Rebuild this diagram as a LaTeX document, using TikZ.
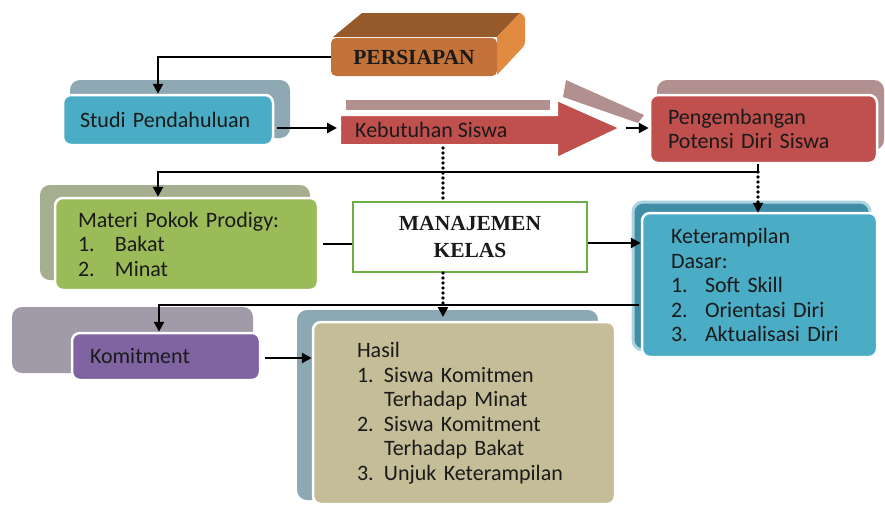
\documentclass[tikz,border=0pt]{standalone}
\usepackage{fontspec}
\setmainfont{Carlito}
\newfontfamily\serifb{Liberation Serif}
\usetikzlibrary{arrows.meta}
\definecolor{cblue}{HTML}{4BACC6}
\definecolor{cblueshad}{HTML}{8EA9B3}
\definecolor{cketshad}{HTML}{408EA6}
\definecolor{cketglow}{HTML}{A9D3E0}
\definecolor{cred}{HTML}{C0504D}
\definecolor{credshad}{HTML}{B39090}
\definecolor{cgreen}{HTML}{9BBB59}
\definecolor{cgreenshad}{HTML}{A5AE8E}
\definecolor{cpurple}{HTML}{8064A2}
\definecolor{cpurpshad}{HTML}{A19AA8}
\definecolor{ctan}{HTML}{C4BD97}
\definecolor{chasshad}{HTML}{8BA8B4}
\definecolor{corfront}{HTML}{C3733A}
\definecolor{cortop}{HTML}{95592A}
\definecolor{corside}{HTML}{E08B3F}
\definecolor{cmkline}{HTML}{6DAE45}
\definecolor{ctext}{HTML}{1A1A1A}
\begin{document}
\begin{tikzpicture}[x=1pt,y=-1pt,
  box/.style={rounded corners=8pt, draw=white, line width=2.5pt, inner ysep=0pt,
    align=left, text=ctext, font=\fontsize{22}{24.5}\selectfont},
  shad/.style={rounded corners=10pt},
  arr/.style={line width=2.8pt, -{Triangle[length=10pt,width=10pt]}},
  ln/.style={line width=2.8pt},
  dots/.style={line width=3.6pt, line cap=round, dash pattern=on 0pt off 5pt},
]
\useasboundingbox (0,0) rectangle (885,504);

% ---------- PERSIAPAN (3D block)
\fill[cortop] (333,37) -- (362,13) -- (520,13) -- (497,37) -- cycle;
\fill[corside] (497,37) -- (520,13) [rounded corners=3pt] -- (525,16) -- (525,45) [sharp corners] -- (497,75) -- cycle;
\node[fill=corfront, rounded corners=5pt, minimum width=166pt, minimum height=38pt,
  inner sep=0pt, font=\serifb\bfseries\fontsize{21.5}{22}\selectfont, text=ctext] (pers) at (414,57) {PERSIAPAN};

% ---------- shadows
\fill[cblueshad, shad] (70,80) rectangle (290,138);
\fill[credshad, shad] (657,80) rectangle (884,150);
\fill[cgreenshad, shad] (40,185) rectangle (310,280);
\filldraw[fill=cketshad, draw=cketglow, line width=3pt, shad] (633,202) rectangle (870,350);
\fill[cpurpshad, shad] (12,307) rectangle (253,373);
\fill[chasshad, shad] (297,310) rectangle (598,500);

% ---------- Kebutuhan Siswa block arrow and its shadow bits
\fill[credshad] (346,100) rectangle (550,110);
\fill[credshad] (566,80) -- (644,115) -- (638,123) -- (563,97) -- cycle;
\filldraw[fill=cred, draw=white, line width=2pt]
  (340,115) -- (557,115) -- (557,100) -- (620,128) -- (557,158) -- (557,145) -- (340,145) -- cycle;
\node[anchor=west, inner sep=0pt, text=ctext, font=\fontsize{22}{24.5}\selectfont] (keb) at (355,130) {Kebutuhan Siswa};
\coordinate (kebL) at (337,128);
\coordinate (kebTip) at (626,128);

% ---------- boxes
\node[box, fill=cblue, minimum width=210pt, minimum height=50pt, inner xsep=17pt, text width=176pt]
  (studi) at (168,120) {Studi Pendahuluan};
\node[box, fill=cred, minimum width=227pt, minimum height=68pt, inner xsep=18pt, text width=191pt]
  (peng) at (763.5,129) {Pengembangan\\Potensi Diri Siswa};
\node[box, fill=cgreen, minimum width=263pt, minimum height=92pt, inner xsep=23pt, text width=217pt]
  (materi) at (186.5,244) {Materi Pokok Prodigy:\\\makebox[37pt][l]{1.}Bakat\\\makebox[37pt][l]{2.}Minat};
\node[draw=cmkline, fill=white, line width=2pt, minimum width=234pt, minimum height=70pt, align=center,
  inner sep=0pt, text=ctext, font=\serifb\bfseries\fontsize{21.5}{27}\selectfont]
  (mk) at (470,237) {MANAJEMEN\\KELAS};
\node[box, fill=cblue, minimum width=235pt, minimum height=144pt, inner xsep=29pt, text width=177pt]
  (ket) at (759.5,285) {Keterampilan\\Dasar:\\\makebox[34pt][l]{1.}Soft Skill\\\makebox[34pt][l]{2.}Orientasi Diri\\\makebox[34pt][l]{3.}Aktualisasi Diri};
\node[box, fill=cpurple, minimum width=188pt, minimum height=47pt, inner xsep=18pt, text width=152pt]
  (komit) at (166,356.5) {Komitment};
\node[box, fill=ctan, minimum width=302pt, minimum height=182pt, inner xsep=44pt, text width=214pt]
  (hasil) at (464,413) {Hasil\\\makebox[27pt][l]{1.}Siswa Komitmen\\\hspace*{27pt}Terhadap Minat\\\makebox[27pt][l]{2.}Siswa Komitment\\\hspace*{27pt}Terhadap Bakat\\\makebox[27pt][l]{3.}Unjuk Keterampilan};

% ---------- connectors
\coordinate (j1) at (158,57);
\draw[arr] (pers.west) -- (j1) -- (j1 |- studi.north);
\draw[arr] ([xshift=3pt]studi.east |- kebL) -- (kebL);
\draw[arr] (kebTip) -- (peng.west |- kebTip);

\coordinate (j2) at (758,172);
\coordinate (j2b) at (158,172);
\draw[arr] (peng.south -| j2) -- (j2) -- (j2b) -- (j2b |- materi.north);
\draw[dots, -{Triangle[length=10pt,width=10pt]}] (j2) -- ([yshift=-1pt]j2 |- ket.north);

\coordinate (dx) at (443,148);
\coordinate (dxb) at (443,317);
\draw[dots] (dx) -- (dx |- mk.north);
\draw[dots, -{Triangle[length=10pt,width=10pt]}] (dx |- mk.south) -- (dxb);

\draw[ln] ([xshift=4pt]materi.east) -- (materi.east -| mk.west);
\coordinate (m1) at (500,243);
\draw[arr] (mk.east |- m1) -- (ket.west |- m1);

\coordinate (j3) at (159,305);
\draw[arr] ([xshift=-2pt]ket.west |- j3) -- (j3) -- (j3 |- komit.north);

\coordinate (k2) at (300,358);
\draw[arr] ([xshift=4pt]komit.east |- k2) -- (hasil.west |- k2);
\end{tikzpicture}
\end{document}
